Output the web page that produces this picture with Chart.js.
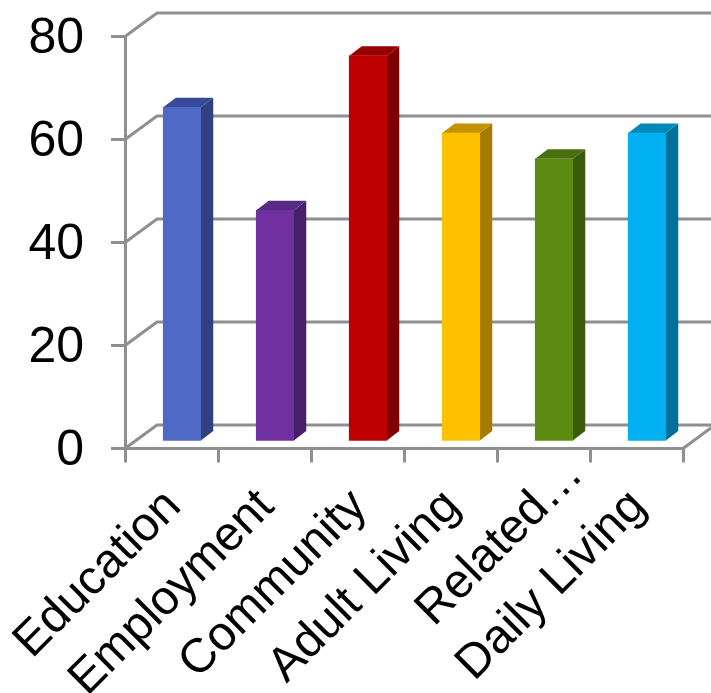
<!DOCTYPE html>
<html>
<head>
<meta charset="utf-8">
<style>
html, body { margin: 0; padding: 0; background: #fff; }
canvas { display: block; }
</style>
<script src="https://cdn.jsdelivr.net/npm/chart.js@4"></script>
</head>
<body>
<canvas id="chart" width="711" height="693" style="width:711px;height:693px"></canvas>
<script>
var categories = ['Education', 'Employment', 'Community', 'Adult Living', 'Related…', 'Daily Living'];
var values = [65, 45, 75, 60, 55, 60];
var frontColors = ['#4f69c6', '#7030a0', '#c00000', '#ffc000', '#5b8c11', '#00b0f0'];
var sideColors = ['#2f4180', '#47206a', '#7f0000', '#a67c00', '#3a5a0c', '#006f9b'];
var topColors = ['#38499a', '#562a85', '#960000', '#c49300', '#487010', '#0088b9'];
var yTicks = [0, 20, 40, 60, 80];

var GRID = '#8f8f8f';
// how far the back wall sits behind the front axes
var WALL_DX = 32, WALL_DY = -23.5;
// bars stand in the middle of the floor, and have this much depth
var BAR_DX = 10.5, BAR_DY = -6.5;
var DEPTH_DX = 12.5, DEPTH_DY = -9.5;

function poly(ctx, pts, color) {
	ctx.fillStyle = color;
	ctx.beginPath();
	ctx.moveTo(pts[0][0], pts[0][1]);
	for (var i = 1; i < pts.length; i++) ctx.lineTo(pts[i][0], pts[i][1]);
	ctx.closePath();
	ctx.fill();
}

var depthPlugin = {
	id: 'depth',
	// the truncated label sits further along its slant than the others
	afterLayout: function(chart) {
		var t = chart.scales.x.getLabelItems()[4].options.translation;
		t[0] += 30;
		t[1] -= 32;
	},
	// back wall, floor and the slanted lines joining them to the axes
	beforeDatasetsDraw: function(chart) {
		var ctx = chart.ctx, area = chart.chartArea, y = chart.scales.y;
		ctx.save();
		ctx.strokeStyle = GRID;
		ctx.lineWidth = 3;
		yTicks.forEach(function(v) {
			var py = y.getPixelForValue(v);
			ctx.beginPath();
			ctx.moveTo(area.left, py);
			ctx.lineTo(area.left + WALL_DX, py + WALL_DY);
			ctx.lineTo(chart.width, py + WALL_DY);
			ctx.stroke();
		});
		ctx.beginPath();
		ctx.moveTo(area.right, area.bottom);
		ctx.lineTo(area.right + WALL_DX, area.bottom + WALL_DY);
		ctx.stroke();
		ctx.restore();
	},
	// side and top faces first, then the library draws the front faces shifted
	beforeDatasetDraw: function(chart, args) {
		var ctx = chart.ctx;
		args.meta.data.forEach(function(bar, i) {
			var p = bar.getProps(['x', 'y', 'base', 'width'], true);
			var l = p.x - p.width / 2 + BAR_DX, r = p.x + p.width / 2 + BAR_DX;
			var t = p.y + BAR_DY, b = p.base + BAR_DY;
			poly(ctx, [[r, t], [r + DEPTH_DX, t + DEPTH_DY], [r + DEPTH_DX, b + DEPTH_DY], [r, b]], sideColors[i]);
			poly(ctx, [[l, t], [l + DEPTH_DX, t + DEPTH_DY], [r + DEPTH_DX, t + DEPTH_DY], [r, t]], topColors[i]);
		});
		ctx.save();
		ctx.translate(BAR_DX, BAR_DY);
	},
	afterDatasetDraw: function(chart) {
		chart.ctx.restore();
	}
};

new Chart(document.getElementById('chart').getContext('2d'), {
	type: 'bar',
	data: {
		labels: categories,
		datasets: [{
			data: values,
			backgroundColor: frontColors,
			borderWidth: 0,
			barThickness: 37.5,
			clip: false
		}]
	},
	plugins: [depthPlugin],
	options: {
		responsive: false,
		animation: false,
		devicePixelRatio: 1,
		layout: { padding: { top: 36.5, right: 28, left: 0, bottom: 0 } },
		plugins: { legend: { display: false }, tooltip: { enabled: false } },
		scales: {
			x: {
				grid: { drawOnChartArea: false, drawTicks: true, tickLength: 14, color: GRID, lineWidth: 3 },
				border: { color: GRID, width: 3 },
				afterFit: function(scale) {
					scale.height = 244.5;
					scale.paddingLeft = 0;
					scale.paddingRight = 0;
				},
				ticks: {
					color: '#000',
					autoSkip: false,
					minRotation: 45,
					maxRotation: 45,
					padding: 16,
					labelOffset: 2,
					font: { family: '"Liberation Sans"', size: 48 }
				}
			},
			y: {
				min: 0,
				max: 80,
				grid: { drawOnChartArea: false, drawTicks: true, tickLength: 14, color: GRID, lineWidth: 3 },
				border: { color: GRID, width: 3 },
				afterFit: function(scale) {
					scale.width = 125;
					scale.paddingTop = 0;
					scale.paddingBottom = 0;
				},
				ticks: {
					color: '#000',
					stepSize: 20,
					padding: 27,
					labelOffset: 3,
					font: { family: '"Liberation Sans"', size: 50 }
				}
			}
		}
	}
});
</script>
</body>
</html>
